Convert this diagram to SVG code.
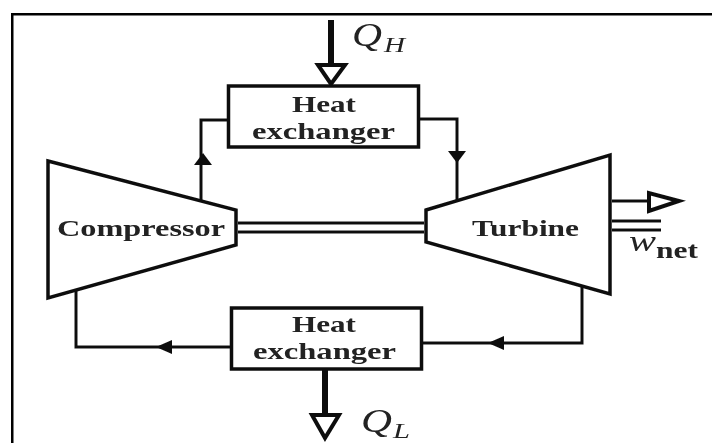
<svg xmlns="http://www.w3.org/2000/svg" width="712" height="443" viewBox="0 0 712 443">
<style>
.s{fill:none;stroke:#111;stroke-width:3;stroke-linejoin:miter}
.k{fill:none;stroke:#111;stroke-width:6}
.b{fill:#fff;stroke:#111;stroke-width:3.500}
.h{fill:#fff;stroke:#111;stroke-width:4}
.t{font-family:"Liberation Serif",serif;font-weight:bold;font-size:23px;fill:#222}
.i{font-family:"Liberation Serif",serif;font-style:italic;fill:#222}
</style>
<defs>
<filter id="soft" x="0" y="0" width="100%" height="100%"><feGaussianBlur stdDeviation="0.6"/></filter>
</defs>
<rect width="712" height="443" fill="#fff"/>
<g filter="url(#soft)">
<path d="M11.500 443V13.500H712" fill="none" stroke="#000" stroke-width="4"/>
<g id="connectors">
<path class="s" d="M201 200V120H228"/>
<path class="s" d="M418 119H457V200"/>
<path class="s" d="M582 286V343H421"/>
<path class="s" d="M231 347H76V290"/>
<path class="s" d="M238 223H424M238 232H424"/>
<path class="k" d="M331 20V66"/>
<path class="k" d="M325 370V415"/>
<path class="s" d="M612 201H650M612 221H661M612 230H661"/>
<path d="M194 165H212L203 153Z" fill="#111"/>
<path d="M448 151H466L457 163Z" fill="#111"/>
<path d="M504 336V350L488 343Z" fill="#111"/>
<path d="M172 340V354L156 347Z" fill="#111"/>
<path class="h" d="M318 65H345L331 84Z"/>
<path class="h" d="M312 415H339L325 438Z"/>
<path class="h" d="M649 193V211L679 201Z"/>
</g>
<g id="top-heat-exchanger"><rect class="b" x="228.500" y="86" width="190" height="61"/>
<text class="t" x="292" y="112" textLength="64" lengthAdjust="spacingAndGlyphs">Heat</text>
<text class="t" x="252" y="139" textLength="143" lengthAdjust="spacingAndGlyphs">exchanger</text></g>
<g id="bottom-heat-exchanger"><rect class="b" x="231.500" y="308" width="190" height="61"/>
<text class="t" x="292" y="332" textLength="64" lengthAdjust="spacingAndGlyphs">Heat</text>
<text class="t" x="253" y="359" textLength="143" lengthAdjust="spacingAndGlyphs">exchanger</text></g>
<g id="compressor"><path class="b" d="M48 161L236 210V245L48 298Z"/>
<text class="t" x="57" y="236" textLength="168" lengthAdjust="spacingAndGlyphs">Compressor</text></g>
<g id="turbine"><path class="b" d="M426 210L610 155V294L426 242Z"/>
<text class="t" x="472" y="236" textLength="107" lengthAdjust="spacingAndGlyphs">Turbine</text></g>
<g id="labels">
<text class="i" x="352" y="46" font-size="34" textLength="30" lengthAdjust="spacingAndGlyphs">Q</text><text class="i" x="384" y="52" font-size="22" textLength="21" lengthAdjust="spacingAndGlyphs">H</text>
<text class="i" x="361" y="432" font-size="34" textLength="31" lengthAdjust="spacingAndGlyphs">Q</text><text class="i" x="393" y="438" font-size="20" textLength="17" lengthAdjust="spacingAndGlyphs">L</text>
<text class="i" x="629" y="251" font-size="30" textLength="27" lengthAdjust="spacingAndGlyphs">w</text><text class="t" x="656" y="258" textLength="42" lengthAdjust="spacingAndGlyphs">net</text>
</g>
</g>
</svg>
